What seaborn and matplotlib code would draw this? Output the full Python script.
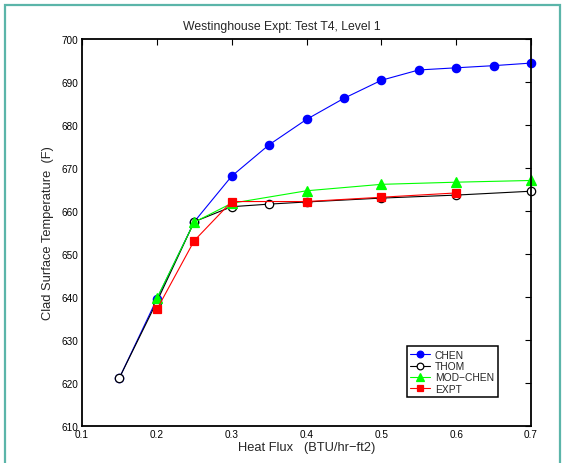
import matplotlib
matplotlib.use("Agg")
import matplotlib.pyplot as plt
import seaborn as sns
import pandas as pd
from matplotlib.patches import Rectangle

sns.set_style("white")
plt.rcParams['font.family'] = ['Liberation Sans', 'DejaVu Sans']

# data
chen_x = [0.15, 0.2, 0.25, 0.3, 0.35, 0.4, 0.45, 0.5, 0.55, 0.6, 0.65, 0.7]
chen_y = [621.2, 639.5, 657.5, 668.1, 675.4, 681.3, 686.2, 690.4, 692.8, 693.3, 693.8, 694.4]
thom_x = [0.15, 0.2, 0.25, 0.3, 0.35, 0.4, 0.5, 0.6, 0.7]
thom_y = [621.2, 638.9, 657.5, 661.0, 661.6, 662.1, 663.0, 663.7, 664.6]
mod_x = [0.2, 0.25, 0.3, 0.4, 0.5, 0.6, 0.7]
mod_y = [639.7, 657.4, 661.8, 664.7, 666.2, 666.7, 667.1]
expt_x = [0.2, 0.25, 0.3, 0.4, 0.5, 0.6]
expt_y = [637.1, 653.1, 662.2, 662.2, 663.2, 664.2]

title = "Westinghouse Expt: Test T4, Level 1"
xlabel = "Heat Flux   (BTU/hr\u2212ft2)"
ylabel = "Clad Surface Temperature  (F)"
xticks = [0.1, 0.2, 0.3, 0.4, 0.5, 0.6, 0.7]
yticks = list(range(610, 701, 10))

W, H = 566, 464
fig = plt.figure(figsize=(W / 100, H / 100), dpi=100)
fig.patch.set_facecolor("white")
fig.patches.append(Rectangle((5 / W, 1 - 470 / H), (560 - 5) / W, (470 - 6) / H,
                             transform=fig.transFigure, fill=False,
                             edgecolor="#5bb5a9", linewidth=1.6, zorder=0))

ax = fig.add_axes([82 / W, 1 - 427 / H, (531 - 82) / W, (427 - 40) / H])

series = [
    ("CHEN", chen_x, chen_y, dict(color="#0000ff", marker="o", markersize=6,
                                  markerfacecolor="#0000ff", markeredgecolor="#0000ff")),
    ("THOM", thom_x, thom_y, dict(color="black", marker="o", markersize=6,
                                  markerfacecolor="white", markeredgecolor="black")),
    ("MOD\u2212CHEN", mod_x, mod_y, dict(color="#00ff00", marker="^", markersize=6.5,
                                         markerfacecolor="#00ff00", markeredgecolor="#00ff00")),
    ("EXPT", expt_x, expt_y, dict(color="#ff0000", marker="s", markersize=5.3,
                                  markerfacecolor="#ff0000", markeredgecolor="#ff0000")),
]
for name, xs, ys, kw in series:
    df = pd.DataFrame({"x": xs, "y": ys})
    sns.lineplot(data=df, x="x", y="y", ax=ax, label=name, linewidth=0.8,
                 markeredgewidth=0.9, clip_on=False, **kw)

ax.set_xlim(0.1, 0.7)
ax.set_ylim(610, 700)
ax.set_xticks(xticks)
ax.set_xticklabels([f"{v:.1f}" for v in xticks])
ax.set_yticks(yticks)
ax.set_yticklabels([str(v) for v in yticks])
ax.tick_params(direction="in", length=4, width=0.8, labelsize=7.2, colors="black",
               top=True, right=True, pad=2.5)
for s in ax.spines.values():
    s.set_color("black")
    s.set_linewidth(1.3)
ax.set_xlabel("")
ax.set_ylabel("")
ax.grid(False)

fig.text(282 / W, 1 - 27 / H, title, ha="center", va="center", fontsize=8.8)
fig.text(307 / W, 1 - 448 / H, xlabel, ha="center", va="center", fontsize=9.3)
fig.text(48 / W, 1 - 233 / H, ylabel, ha="center", va="center", rotation=90, fontsize=9.3)

leg = ax.legend(loc="upper left", bbox_to_anchor=(406.7 / W, 1 - 347.3 / H),
                bbox_transform=fig.transFigure, borderaxespad=0, fontsize=7.4,
                frameon=True, fancybox=False, edgecolor="black", framealpha=1,
                handlelength=1.9, handletextpad=0.5, labelspacing=0.12,
                borderpad=0.35, markerscale=0.8)
leg.get_frame().set_linewidth(1.1)

fig.savefig("out.png", dpi=100)
